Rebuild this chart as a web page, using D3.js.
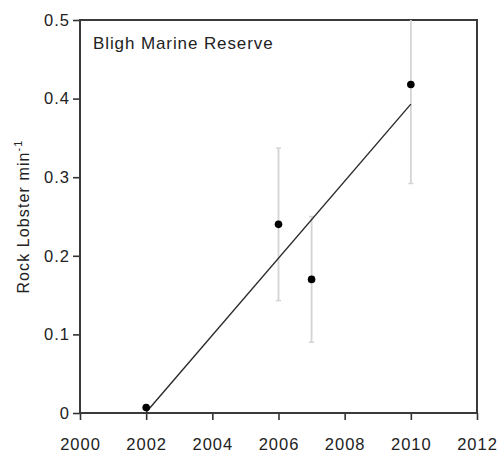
<!DOCTYPE html>
<html>
<head>
<meta charset="utf-8">
<script src="https://cdn.jsdelivr.net/npm/d3@7"></script>
<style>
  html, body { margin: 0; padding: 0; background: #fff; }
  svg { display: block; }
  text { font-family: "Liberation Sans", Arial, Helvetica, sans-serif; fill: #222; }
</style>
</head>
<body>
<svg id="chart" width="502" height="457"></svg>
<script>
// Survey years and mean catch rate (rock lobster per minute) with error half-widths
const years = [2002, 2006, 2007, 2010];
const means = [0.007, 0.240, 0.170, 0.418];
const errors = [0.000, 0.097, 0.080, 0.126];

// Fitted trend line (value at the first and last survey year)
const fitYears = [2002, 2010];
const fitValues = [0.001, 0.393];

const xTicks = [2000, 2002, 2004, 2006, 2008, 2010, 2012];
const yTicks = [0, 0.1, 0.2, 0.3, 0.4, 0.5];
const yTickLabels = ["0", "0.1", "0.2", "0.3", "0.4", "0.5"];

const siteLabel = "Bligh Marine Reserve";
const yLabel = "Rock Lobster min";

const margin = { top: 20, right: 25, bottom: 44, left: 80 };
const W = 502, H = 457;
const iw = W - margin.left - margin.right;
const ih = H - margin.top - margin.bottom;

const svg = d3.select("#chart");
const g = svg.append("g").attr("transform", `translate(${margin.left},${margin.top})`);

const x = d3.scaleLinear().domain([2000, 2012]).range([0, iw]);
const y = d3.scaleLinear().domain([0, 0.5]).range([ih, 0]);

svg.append("defs").append("clipPath").attr("id", "plot-clip")
  .append("rect").attr("x", 0).attr("y", 0).attr("width", iw).attr("height", ih);

// Axes
const xAxis = g.append("g").attr("transform", `translate(0,${ih})`)
  .call(d3.axisBottom(x).tickValues(xTicks).tickFormat(d3.format("d")).tickSize(7).tickPadding(18));
const yAxis = g.append("g")
  .call(d3.axisLeft(y).tickValues(yTicks).tickFormat((d, i) => yTickLabels[i]).tickSize(7).tickPadding(3));

[xAxis, yAxis].forEach(a => {
  a.select(".domain").remove();
  a.selectAll(".tick line").attr("stroke", "#333").attr("stroke-width", 1.6);
  a.selectAll(".tick text")
    .style("font-family", "'Liberation Sans', Arial, sans-serif")
    .style("font-size", "16.5px").style("letter-spacing", "1px").attr("fill", "#1e1e1e");
});

// Frame
g.append("rect").attr("x", 0).attr("y", 0).attr("width", iw).attr("height", ih)
  .attr("fill", "none").attr("stroke", "#3a3a3a").attr("stroke-width", 2);

const plot = g.append("g").attr("clip-path", "url(#plot-clip)");

// Error bars
const eb = plot.selectAll("g.err").data(years.map((yr, i) => ({ yr, m: means[i], e: errors[i] })).filter(d => d.e > 0))
  .enter().append("g").attr("class", "err");
eb.append("line")
  .attr("x1", d => x(d.yr)).attr("x2", d => x(d.yr))
  .attr("y1", d => y(d.m - d.e)).attr("y2", d => y(d.m + d.e))
  .attr("stroke", "#d4d4d4").attr("stroke-width", 1.8);
[-1, 1].forEach(s => {
  eb.append("line")
    .attr("x1", d => x(d.yr) - 2.5).attr("x2", d => x(d.yr) + 2.5)
    .attr("y1", d => y(d.m + s * d.e)).attr("y2", d => y(d.m + s * d.e))
    .attr("stroke", "#d4d4d4").attr("stroke-width", 1.5);
});

// Trend line
plot.append("path")
  .datum(fitYears.map((yr, i) => [yr, fitValues[i]]))
  .attr("d", d3.line().x(d => x(d[0])).y(d => y(d[1])))
  .attr("fill", "none").attr("stroke", "#2a2a2a").attr("stroke-width", 1.4);

// Points
g.selectAll("circle.pt").data(years.map((yr, i) => ({ yr, m: means[i] })))
  .enter().append("circle").attr("class", "pt")
  .attr("cx", d => x(d.yr)).attr("cy", d => y(d.m)).attr("r", 3.8)
  .attr("fill", "#000");

// Site label
g.append("text").attr("x", 13).attr("y", 29)
  .style("font-size", "17px").style("letter-spacing", "0.9px")
  .text(siteLabel);

// Y axis title with superscript
const yt = svg.append("text")
  .attr("transform", `translate(29,${margin.top + ih / 2}) rotate(-90)`)
  .attr("text-anchor", "middle")
  .style("font-size", "16px").style("letter-spacing", "1.1px");
yt.append("tspan").text(yLabel);
yt.append("tspan").attr("dy", -7).style("font-size", "11px").text("-1");
</script>
</body>
</html>
